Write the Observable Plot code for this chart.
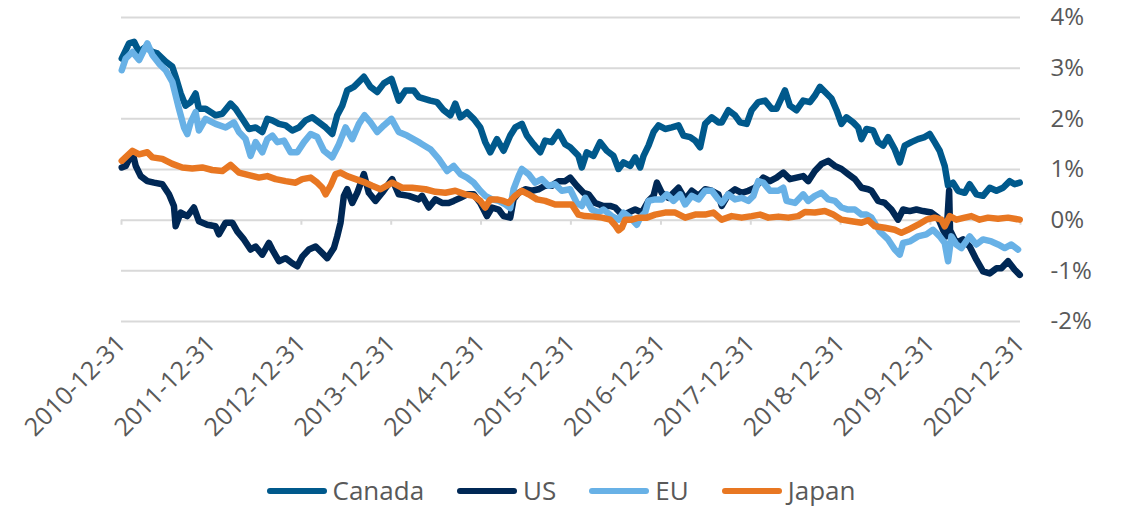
<!DOCTYPE html>
<html>
<head>
<meta charset="utf-8">
<script src="https://cdn.jsdelivr.net/npm/d3@7"></script>
<script src="https://cdn.jsdelivr.net/npm/@observablehq/plot@0.6"></script>
<style>
  html, body { margin: 0; padding: 0; background: #fff; }
  body { width: 1122px; height: 507px; position: relative; overflow: hidden; font-family: "Open Sans", sans-serif; }
  #chart { position: absolute; left: 0; top: 0; }
  #legend { position: absolute; left: 0; width: 1122px; top: 474px; height: 33px; display: flex; justify-content: center; align-items: center; gap: 33px; font-size: 26px; line-height: 33px; color: #595959; }
  .item { display: flex; align-items: center; }
  .sw { display: inline-block; width: 60px; height: 6px; border-radius: 3px; margin-right: 6px; }
</style>
</head>
<body>
<div id="chart"></div>
<div id="legend"></div>
<script>
// ---- data (decimal year, percent) ----
const seriesNames = ["Canada", "US", "EU", "Japan"];
const seriesColors = ["#00598C", "#002855", "#68B1E6", "#E87722"];
const xTickLabels = ["2010-12-31","2011-12-31","2012-12-31","2013-12-31","2014-12-31","2015-12-31","2016-12-31","2017-12-31","2018-12-31","2019-12-31","2020-12-31"];
const yTicks = [-2, -1, 0, 1, 2, 3, 4];

const canada = [[2011.000,3.19],[2011.081,3.49],[2011.137,3.52],[2011.193,3.32],[2011.267,3.42],[2011.341,3.32],[2011.396,3.29],[2011.489,3.13],[2011.563,3.03],[2011.600,2.83],[2011.656,2.50],[2011.711,2.26],[2011.767,2.33],[2011.822,2.50],[2011.859,2.20],[2011.933,2.20],[2012.044,2.07],[2012.119,2.10],[2012.211,2.30],[2012.267,2.20],[2012.341,2.00],[2012.415,1.80],[2012.489,1.83],[2012.563,1.74],[2012.619,2.00],
[2012.674,1.97],[2012.748,1.90],[2012.822,1.87],[2012.896,1.77],[2012.970,1.83],[2013.044,1.97],[2013.119,2.03],[2013.193,1.93],[2013.267,1.83],[2013.341,1.70],[2013.396,2.07],[2013.452,2.26],[2013.507,2.56],[2013.581,2.63],[2013.637,2.73],[2013.693,2.83],[2013.767,2.63],[2013.841,2.53],[2013.915,2.70],[2014.000,2.79],[2014.081,2.36],[2014.156,2.56],[2014.248,2.56],[2014.304,2.43],
[2014.433,2.36],[2014.507,2.33],[2014.581,2.17],[2014.656,2.07],[2014.711,2.30],[2014.767,2.03],[2014.841,2.13],[2014.915,2.00],[2014.989,1.83],[2015.044,1.54],[2015.100,1.34],[2015.174,1.60],[2015.248,1.37],[2015.322,1.67],[2015.378,1.83],[2015.452,1.90],[2015.507,1.67],[2015.581,1.50],[2015.656,1.34],[2015.711,1.57],[2015.785,1.54],[2015.859,1.74],[2015.933,1.50],[2015.989,1.44],
[2016.081,1.27],[2016.119,1.04],[2016.174,1.34],[2016.248,1.27],[2016.322,1.54],[2016.396,1.37],[2016.470,1.27],[2016.526,1.01],[2016.581,1.14],[2016.656,1.07],[2016.711,1.24],[2016.767,1.04],[2016.804,1.27],[2016.859,1.47],[2016.915,1.74],[2016.970,1.87],[2017.044,1.80],[2017.119,1.83],[2017.193,1.87],[2017.248,1.67],[2017.322,1.64],[2017.378,1.57],[2017.433,1.44],[2017.489,1.90],[2017.563,2.03],[2017.637,1.93],
[2017.674,1.93],[2017.748,2.17],[2017.822,2.07],[2017.878,1.93],[2017.952,1.90],[2018.007,2.17],[2018.081,2.33],[2018.156,2.36],[2018.230,2.20],[2018.285,2.20],[2018.378,2.56],[2018.433,2.26],[2018.507,2.17],[2018.581,2.36],[2018.656,2.33],[2018.711,2.46],[2018.767,2.63],[2018.841,2.50],[2018.896,2.40],[2018.952,2.17],[2019.007,1.90],[2019.063,2.03],[2019.137,1.93],[2019.193,1.83],[2019.230,1.60],[2019.285,1.80],
[2019.359,1.77],[2019.415,1.54],[2019.470,1.47],[2019.526,1.64],[2019.600,1.40],[2019.656,1.14],[2019.711,1.47],[2019.785,1.54],[2019.859,1.60],[2019.933,1.64],[2019.989,1.70],[2020.044,1.54],[2020.100,1.37],[2020.156,1.07],[2020.193,0.68],[2020.248,0.74],[2020.304,0.58],[2020.378,0.54],[2020.433,0.71],[2020.507,0.51],[2020.581,0.48],[2020.656,0.64],[2020.730,0.58],[2020.804,0.64],[2020.878,0.77],[2020.933,0.71],[2020.989,0.74]];

const us = [[2011.000,1.04],[2011.044,1.07],[2011.119,1.34],[2011.156,1.07],[2011.211,0.87],[2011.285,0.77],[2011.359,0.74],[2011.452,0.71],[2011.526,0.51],[2011.581,0.28],[2011.600,-0.12],[2011.656,0.15],[2011.730,0.08],[2011.804,0.25],[2011.859,-0.02],[2011.952,-0.09],[2012.044,-0.12],[2012.081,-0.28],[2012.156,-0.05],[2012.230,-0.05],[2012.285,-0.22],[2012.359,-0.38],[2012.433,-0.58],[2012.489,-0.52],[2012.563,-0.68],[2012.637,-0.45],
[2012.674,-0.58],[2012.748,-0.81],[2012.822,-0.75],[2012.896,-0.85],[2012.952,-0.91],[2013.007,-0.72],[2013.081,-0.58],[2013.156,-0.52],[2013.230,-0.65],[2013.285,-0.75],[2013.359,-0.55],[2013.396,-0.32],[2013.433,-0.05],[2013.470,0.48],[2013.507,0.61],[2013.563,0.34],[2013.619,0.54],[2013.693,0.91],[2013.748,0.54],[2013.822,0.38],[2013.896,0.54],[2014.007,0.81],[2014.081,0.51],[2014.193,0.48],[2014.304,0.41],
[2014.341,0.48],[2014.415,0.25],[2014.489,0.41],[2014.563,0.34],[2014.637,0.34],[2014.693,0.38],[2014.767,0.44],[2014.841,0.51],[2014.915,0.51],[2014.989,0.34],[2015.063,0.08],[2015.119,0.25],[2015.193,0.21],[2015.248,0.08],[2015.322,0.05],[2015.359,0.41],[2015.415,0.54],[2015.489,0.61],[2015.563,0.58],[2015.637,0.61],[2015.711,0.68],[2015.785,0.68],[2015.859,0.77],[2015.933,0.77],[2015.989,0.84],
[2016.063,0.68],[2016.137,0.54],[2016.193,0.51],[2016.267,0.34],[2016.359,0.28],[2016.433,0.28],[2016.489,0.25],[2016.563,0.11],[2016.637,0.15],[2016.711,0.21],[2016.785,0.15],[2016.859,0.38],[2016.915,0.48],[2016.952,0.74],[2017.007,0.54],[2017.081,0.44],[2017.193,0.64],[2017.267,0.41],[2017.341,0.58],[2017.415,0.48],[2017.489,0.61],[2017.563,0.58],[2017.637,0.51],
[2017.674,0.28],[2017.748,0.51],[2017.822,0.61],[2017.896,0.54],[2017.970,0.58],[2018.044,0.64],[2018.137,0.84],[2018.211,0.77],[2018.285,0.84],[2018.359,0.94],[2018.433,0.81],[2018.507,0.84],[2018.581,0.87],[2018.637,0.77],[2018.711,0.97],[2018.785,1.11],[2018.859,1.17],[2018.933,1.07],[2019.007,1.01],[2019.081,0.91],[2019.156,0.81],[2019.230,0.64],[2019.304,0.61],
[2019.341,0.58],[2019.415,0.38],[2019.489,0.34],[2019.563,0.21],[2019.637,0.01],[2019.693,0.21],[2019.767,0.18],[2019.841,0.21],[2019.915,0.18],[2020.007,0.15],[2020.081,0.05],[2020.137,-0.19],[2020.174,-0.32],[2020.205,0.58],[2020.215,-0.20],[2020.285,-0.45],[2020.359,-0.38],[2020.433,-0.52],[2020.507,-0.78],[2020.581,-1.01],[2020.656,-1.05],[2020.730,-0.95],[2020.785,-0.95],[2020.859,-0.81],[2020.933,-0.98],[2020.989,-1.08]];

const eu = [[2011.000,2.96],[2011.044,3.19],[2011.119,3.32],[2011.193,3.16],[2011.285,3.49],[2011.341,3.26],[2011.415,3.09],[2011.489,2.96],[2011.563,2.73],[2011.637,2.20],[2011.693,1.83],[2011.730,1.70],[2011.767,1.93],[2011.822,2.13],[2011.859,1.77],[2011.933,2.00],[2012.044,1.90],[2012.156,1.83],[2012.248,1.93],[2012.304,1.74],[2012.378,1.60],[2012.433,1.27],[2012.489,1.54],[2012.563,1.34],[2012.619,1.60],
[2012.674,1.67],[2012.730,1.54],[2012.804,1.57],[2012.878,1.34],[2012.952,1.34],[2013.026,1.54],[2013.100,1.70],[2013.174,1.64],[2013.248,1.37],[2013.341,1.24],[2013.415,1.50],[2013.489,1.83],[2013.563,1.60],[2013.637,1.90],[2013.700,2.07],[2013.767,1.93],[2013.841,1.74],[2013.915,1.87],[2014.000,2.00],[2014.081,1.74],[2014.174,1.67],[2014.304,1.54],
[2014.341,1.50],[2014.433,1.40],[2014.526,1.21],[2014.619,0.97],[2014.693,1.07],[2014.767,0.91],[2014.841,0.84],[2014.915,0.74],[2014.989,0.58],[2015.044,0.48],[2015.119,0.41],[2015.193,0.38],[2015.267,0.31],[2015.322,0.24],[2015.359,0.61],[2015.415,0.87],[2015.452,1.01],[2015.526,0.91],[2015.600,0.74],[2015.674,0.81],[2015.748,0.68],[2015.822,0.71],[2015.896,0.58],[2015.989,0.61],
[2016.063,0.34],[2016.119,0.28],[2016.156,0.44],[2016.230,0.21],[2016.304,0.15],[2016.359,0.21],[2016.452,0.08],[2016.526,0.01],[2016.581,0.15],[2016.656,0.05],[2016.730,-0.09],[2016.767,0.05],[2016.822,0.15],[2016.859,0.38],[2016.933,0.41],[2017.007,0.41],[2017.063,0.51],[2017.137,0.38],[2017.211,0.51],[2017.267,0.31],[2017.341,0.48],[2017.415,0.41],[2017.489,0.58],[2017.563,0.58],[2017.637,0.41],
[2017.674,0.34],[2017.748,0.51],[2017.822,0.41],[2017.896,0.44],[2017.970,0.38],[2018.026,0.48],[2018.081,0.77],[2018.137,0.74],[2018.211,0.58],[2018.304,0.58],[2018.359,0.64],[2018.396,0.38],[2018.489,0.34],[2018.581,0.51],[2018.637,0.38],[2018.711,0.48],[2018.785,0.54],[2018.859,0.41],[2018.933,0.38],[2019.007,0.25],[2019.081,0.21],[2019.156,0.21],[2019.230,0.11],[2019.285,0.11],
[2019.341,0.05],[2019.433,-0.22],[2019.526,-0.38],[2019.600,-0.58],[2019.656,-0.68],[2019.693,-0.45],[2019.767,-0.42],[2019.859,-0.32],[2019.952,-0.28],[2020.026,-0.19],[2020.100,-0.32],[2020.156,-0.45],[2020.193,-0.81],[2020.230,-0.32],[2020.285,-0.48],[2020.341,-0.55],[2020.433,-0.32],[2020.507,-0.48],[2020.581,-0.38],[2020.674,-0.42],[2020.748,-0.48],[2020.822,-0.55],[2020.896,-0.48],[2020.970,-0.58]];

const japan = [[2011.000,1.17],[2011.119,1.37],[2011.193,1.30],[2011.285,1.34],[2011.341,1.24],[2011.452,1.21],[2011.563,1.11],[2011.674,1.04],[2011.785,1.02],[2011.896,1.04],[2012.007,0.99],[2012.119,0.97],[2012.211,1.09],[2012.304,0.94],[2012.415,0.89],[2012.526,0.84],[2012.619,0.87],
[2012.711,0.81],[2012.822,0.77],[2012.933,0.74],[2013.007,0.81],[2013.100,0.84],[2013.174,0.74],[2013.230,0.64],[2013.267,0.51],[2013.322,0.68],[2013.378,0.91],[2013.433,0.94],[2013.507,0.87],[2013.600,0.81],[2013.711,0.74],[2013.785,0.68],[2013.878,0.61],[2014.007,0.74],[2014.119,0.64],[2014.230,0.64],
[2014.378,0.61],[2014.489,0.56],[2014.600,0.54],[2014.711,0.58],[2014.822,0.51],[2014.915,0.48],[2014.989,0.38],[2015.044,0.25],[2015.100,0.41],[2015.174,0.41],[2015.248,0.38],[2015.304,0.34],[2015.378,0.48],[2015.452,0.58],[2015.526,0.51],[2015.619,0.41],[2015.711,0.38],[2015.822,0.31],[2015.933,0.31],
[2016.007,0.31],[2016.081,0.11],[2016.156,0.08],[2016.248,0.07],[2016.341,0.05],[2016.433,0.01],[2016.489,-0.10],[2016.526,-0.20],[2016.563,-0.15],[2016.600,0.01],[2016.674,0.01],[2016.748,0.05],[2016.841,0.05],[2016.933,0.11],[2017.044,0.15],[2017.156,0.15],[2017.267,0.05],[2017.378,0.11],[2017.489,0.11],[2017.581,0.15],
[2017.674,0.01],[2017.785,0.08],[2017.896,0.05],[2018.007,0.08],[2018.100,0.11],[2018.193,0.05],[2018.304,0.07],[2018.415,0.05],[2018.526,0.08],[2018.600,0.16],[2018.711,0.15],[2018.822,0.18],[2018.915,0.11],[2019.007,0.01],[2019.119,-0.02],[2019.230,-0.05],[2019.304,0.00],
[2019.378,-0.12],[2019.489,-0.15],[2019.600,-0.19],[2019.674,-0.25],[2019.748,-0.19],[2019.859,-0.09],[2019.952,0.01],[2020.044,0.05],[2020.119,0.01],[2020.156,-0.12],[2020.211,0.08],[2020.285,0.01],[2020.378,0.05],[2020.452,0.08],[2020.544,0.01],[2020.637,0.05],[2020.748,0.03],[2020.859,0.05],[2020.989,0.01]];

// ---- build table ----
function decToDate(t) {
  const y = Math.floor(t);
  const a = Date.UTC(y, 0, 1), b = Date.UTC(y + 1, 0, 1);
  return new Date(a + (t - y) * (b - a));
}
const seriesData = [canada, us, eu, japan];
const rows = [];
seriesData.forEach((arr, i) => arr.forEach(([t, v]) => rows.push({series: seriesNames[i], date: decToDate(t), value: v})));
const tickDates = xTickLabels.map(s => d3.utcParse("%Y-%m-%d")(s));
const fmt = d3.utcFormat("%Y-%m-%d");

const chart = Plot.plot({
  width: 1122,
  height: 470,
  marginTop: 17,
  marginBottom: 149,
  marginLeft: 121,
  marginRight: 102,
  style: {fontFamily: "'Open Sans', sans-serif", fontSize: "23px", color: "#595959", background: "#fff"},
  x: {type: "utc", domain: [tickDates[0], tickDates[tickDates.length - 1]]},
  y: {domain: [-2, 4]},
  color: {domain: seriesNames, range: seriesColors},
  marks: [
    Plot.ruleY(yTicks, {stroke: "#d9d9d9", strokeWidth: 2}),
    Plot.ruleX(tickDates, {y1: 0, y2: -0.1, stroke: "#d9d9d9", strokeWidth: 2}),
    Plot.axisY({anchor: "right", ticks: yTicks, tickFormat: d => d + "%", tickSize: 0, tickPadding: 30, label: null, fill: "#595959", fontSize: 24}),
    Plot.axisX({ticks: tickDates, tickFormat: fmt, tickRotate: -45, tickSize: 0, tickPadding: 18, label: null, fill: "#595959", fontSize: 25}),
    ...seriesNames.map(name => Plot.line(rows.filter(r => r.series === name), {
      x: "date", y: "value", stroke: "series", strokeWidth: 6.5, strokeLinejoin: "round", strokeLinecap: "round"
    }))
  ]
});
document.getElementById("chart").appendChild(chart);

const legend = document.getElementById("legend");
seriesNames.forEach((name, i) => {
  const item = document.createElement("div");
  item.className = "item";
  const sw = document.createElement("span");
  sw.className = "sw";
  sw.style.background = seriesColors[i];
  const tx = document.createElement("span");
  tx.textContent = name;
  item.appendChild(sw);
  item.appendChild(tx);
  legend.appendChild(item);
});
</script>
</body>
</html>
